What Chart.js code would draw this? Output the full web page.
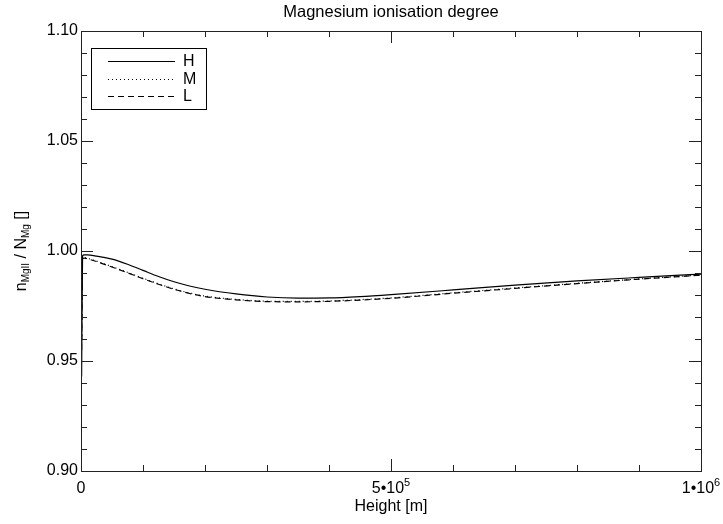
<!DOCTYPE html>
<html>
<head>
<meta charset="utf-8">
<title>Magnesium ionisation degree</title>
<script src="https://cdn.jsdelivr.net/npm/chart.js@4"></script>
<style>
  body { margin: 0; background: #fff; }
  #holder { width: 723px; height: 524px; }
</style>
</head>
<body>
<div id="holder"><canvas id="chartHolder"></canvas></div>
<script>
const chartHolder = document.getElementById("chartHolder");

// height grid [m]
const heights = [1000, 2500, 5000, 10000, 25000, 50000, 75000, 100000, 125000, 150000, 175000,
                 200000, 250000, 300000, 350000, 400000, 450000, 500000, 600000, 700000,
                 800000, 900000, 1000000];

// n_MgII / N_Mg for the three cases
const caseH = [0.943, 0.9978, 0.9982, 0.9982, 0.9977, 0.9963, 0.9940, 0.9912, 0.9884, 0.9860, 0.9841,
               0.9826, 0.9805, 0.9791, 0.9786, 0.9787, 0.9793, 0.9802, 0.9823, 0.9845,
               0.9864, 0.9880, 0.9895];
const caseM = [0.958, 0.9968, 0.9970, 0.9967, 0.9954, 0.9929, 0.9903, 0.9876, 0.9851, 0.9828, 0.9809,
               0.9795, 0.9780, 0.9772, 0.9771, 0.9773, 0.9779, 0.9787, 0.9810, 0.9832,
               0.9853, 0.9873, 0.9891];
const caseL = [0.955, 0.9966, 0.9968, 0.9965, 0.9952, 0.9927, 0.9901, 0.9874, 0.9849, 0.9826, 0.9807,
               0.9793, 0.9778, 0.9770, 0.9769, 0.9771, 0.9777, 0.9785, 0.9808, 0.9830,
               0.9852, 0.9872, 0.9890];

const legendNames = ["H", "M", "L"];
const lineDashes = [[], [1, 3], [6, 4]];

// axis ticks
const yMajor = [0.90, 0.95, 1.00, 1.05, 1.10];
const yTickLabels = ["0.90", "0.95", "1.00", "1.05", "1.10"];
const yMinorStep = 0.01;
const xMajor = [0, 500000, 1000000];
const xTickBase = ["0", "5\u202210", "1\u202210"];
const xTickExp = ["", "5", "6"];
const xMinorStep = 100000;

const FONT = "Liberation Sans, Arial, Helvetica, sans-serif";

function toPoints(values) {
    return heights.map((h, i) => ({ x: h, y: values[i] }));
}

// frame, inward ticks, labels, titles and legend box
const idlAxes = {
    id: "idlAxes",
    afterDraw(chart) {
        const ctx = chart.ctx;
        const area = chart.chartArea;
        const xs = chart.scales.x;
        const ys = chart.scales.y;

        ctx.save();
        ctx.strokeStyle = "#222";
        ctx.lineWidth = 1;
        ctx.strokeRect(area.left + 0.5, area.top + 0.5, area.right - area.left, area.bottom - area.top);

        // y ticks, left and right sides
        ctx.beginPath();
        for (let v = ys.min; v <= ys.max + 1e-9; v += yMinorStep) {
            const py = Math.round(ys.getPixelForValue(v)) + 0.5;
            const major = yMajor.some(m => Math.abs(m - v) < 1e-6);
            const len = major ? 12 : 6;
            ctx.moveTo(area.left, py); ctx.lineTo(area.left + len, py);
            ctx.moveTo(area.right, py); ctx.lineTo(area.right - len, py);
        }
        // x ticks, bottom and top
        for (let v = xs.min; v <= xs.max + 1; v += xMinorStep) {
            const px = Math.round(xs.getPixelForValue(v)) + 0.5;
            const major = xMajor.some(m => Math.abs(m - v) < 1);
            const len = major ? 12 : 6;
            ctx.moveTo(px, area.bottom); ctx.lineTo(px, area.bottom - len);
            ctx.moveTo(px, area.top); ctx.lineTo(px, area.top + len);
        }
        ctx.stroke();

        ctx.fillStyle = "#000";
        ctx.font = "16px " + FONT;
        ctx.textBaseline = "middle";

        // y tick labels
        ctx.textAlign = "right";
        yMajor.forEach((v, i) => {
            ctx.fillText(yTickLabels[i], area.left - 3, ys.getPixelForValue(v));
        });

        // x tick labels with exponents
        xMajor.forEach((v, i) => {
            const px = xs.getPixelForValue(v);
            ctx.font = "16px " + FONT;
            const wBase = ctx.measureText(xTickBase[i]).width;
            ctx.font = "11px " + FONT;
            const wExp = ctx.measureText(xTickExp[i]).width;
            const start = px - (wBase + wExp) / 2;
            ctx.textAlign = "left";
            ctx.font = "16px " + FONT;
            ctx.fillText(xTickBase[i], start, area.bottom + 18);
            ctx.font = "11px " + FONT;
            ctx.fillText(xTickExp[i], start + wBase, area.bottom + 12);
        });

        // titles
        ctx.textAlign = "center";
        ctx.font = "16.5px " + FONT;
        ctx.fillText("Magnesium ionisation degree", (area.left + area.right) / 2, 12);
        ctx.font = "16px " + FONT;
        ctx.fillText("Height [m]", (area.left + area.right) / 2, area.bottom + 36);

        // y title: n_MgII / N_Mg []
        const parts = [
            { t: "n", s: 16, dy: 0 },
            { t: "MgII", s: 10, dy: 4 },
            { t: " / N", s: 16, dy: 0 },
            { t: "Mg", s: 10, dy: 4 },
            { t: " []", s: 16, dy: 0 }
        ];
        let total = 0;
        parts.forEach(p => { ctx.font = p.s + "px " + FONT; p.w = ctx.measureText(p.t).width; total += p.w; });
        ctx.save();
        ctx.translate(22, (area.top + area.bottom) / 2);
        ctx.rotate(-Math.PI / 2);
        ctx.textAlign = "left";
        let cx = -total / 2;
        parts.forEach(p => {
            ctx.font = p.s + "px " + FONT;
            ctx.fillText(p.t, cx, p.dy);
            cx += p.w;
        });
        ctx.restore();

        // legend
        const lx = area.left + 10, ly = area.top + 17;
        ctx.strokeStyle = "#000";
        ctx.lineWidth = 1;
        ctx.strokeRect(lx + 0.5, ly + 0.5, 115, 61);
        legendNames.forEach((name, i) => {
            const y = Math.round(ly + 13 + i * 17.5) + 0.5;
            ctx.setLineDash(lineDashes[i]);
            ctx.lineWidth = 1.2;
            ctx.beginPath();
            ctx.moveTo(lx + 17, y);
            ctx.lineTo(lx + 84, y);
            ctx.stroke();
            ctx.setLineDash([]);
            ctx.font = "16px " + FONT;
            ctx.textAlign = "left";
            ctx.fillText(name, lx + 92, y);
        });
        ctx.restore();
    }
};

new Chart(chartHolder, {
    type: "line",
    data: {
        datasets: [caseH, caseM, caseL].map((vals, i) => ({
            label: legendNames[i],
            data: toPoints(vals),
            borderColor: "#000",
            borderWidth: 1.2,
            borderDash: lineDashes[i],
            pointRadius: 0,
            fill: false,
            cubicInterpolationMode: "monotone"
        }))
    },
    options: {
        responsive: true,
        maintainAspectRatio: false,
        animation: false,
        layout: { padding: { left: 81, right: 22, top: 31, bottom: 53 } },
        plugins: { legend: { display: false }, tooltip: { enabled: false } },
        scales: {
            x: { type: "linear", min: 0, max: 1000000, display: false },
            y: { type: "linear", min: 0.90, max: 1.10, display: false }
        }
    },
    plugins: [idlAxes]
});
</script>
</body>
</html>
